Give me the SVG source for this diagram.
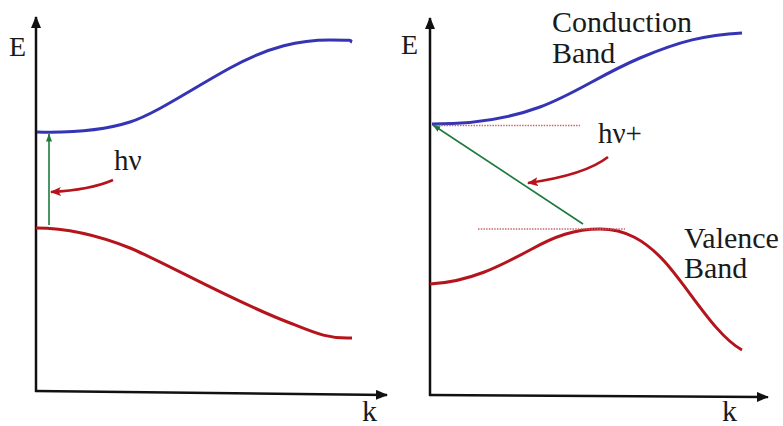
<svg xmlns="http://www.w3.org/2000/svg" width="783" height="426" viewBox="0 0 783 426">
<defs>
<marker id="ax" viewBox="0 0 12 10" refX="11" refY="5" markerWidth="12" markerHeight="10" markerUnits="userSpaceOnUse" orient="auto"><path d="M0,0 L12,5 L0,10 Z" fill="#111"/></marker>
<marker id="gr" viewBox="0 0 8 6" refX="7.5" refY="3" markerWidth="8" markerHeight="6" markerUnits="userSpaceOnUse" orient="auto"><path d="M0,0 L8,3 L0,6 Z" fill="#1e7a3c"/></marker>
<marker id="rd" viewBox="0 0 11 9" refX="10" refY="4.5" markerWidth="11" markerHeight="9" markerUnits="userSpaceOnUse" orient="auto"><path d="M0,0 L11,4.5 L0,9 L2.5,4.5 Z" fill="#b5141c"/></marker>
</defs>
<style>
.axis{stroke:#111;stroke-width:2.5;fill:none}
.cb{stroke:#3434b4;stroke-width:3;fill:none}
.vb{stroke:#b5141c;stroke-width:3;fill:none}
.gn{stroke:#1e7a3c;stroke-width:1.6;fill:none}
.ra{stroke:#b5141c;stroke-width:2.6;fill:none}
.dot{stroke:#c46a6a;stroke-width:1.6;stroke-dasharray:1.5 1.2;fill:none}
.t{fill:#1a1a1a}
</style>
<rect width="783" height="426" fill="#fff"/>
<g id="left-panel">
<g id="left-axes">
<line class="axis" x1="36" y1="392" x2="36" y2="17" marker-end="url(#ax)"/>
<line class="axis" x1="35" y1="391" x2="387" y2="395" marker-end="url(#ax)"/>
<text class="t" font-family="Liberation Serif, DejaVu Serif, serif" x="9" y="56" font-size="28">E</text>
<text class="t" font-family="Liberation Serif, DejaVu Serif, serif" x="362" y="421" font-size="30">k</text>
</g>
<g id="left-conduction">
<path class="cb" d="M37,132 C75,133 105,130 130,122 S190,90 230,68 S300,40 330,40 S348,41 352,42"/>
</g>
<g id="left-valence">
<path class="vb" d="M36,228 C70,228 100,236 130,248 C170,265 230,300 290,323 C315,333 328,339 352,338"/>
</g>
<g id="left-label">
<text class="t" font-family="Liberation Serif, DejaVu Serif, serif" x="114" y="170" font-size="29">hν</text>
</g>
</g>
<g id="right-panel">
<g id="right-axes">
<line class="axis" x1="430" y1="396" x2="430" y2="18" marker-end="url(#ax)"/>
<line class="axis" x1="429" y1="395" x2="768" y2="397" marker-end="url(#ax)"/>
<text class="t" font-family="Liberation Serif, DejaVu Serif, serif" x="401" y="54" font-size="28">E</text>
<text class="t" font-family="Liberation Serif, DejaVu Serif, serif" x="722" y="421" font-size="30">k</text>
</g>
<g id="right-conduction">
<path class="cb" d="M432,124 C470,124 505,120 540,107 S600,75 640,58 S705,35 742,33"/>
<text class="t" font-family="Liberation Serif, DejaVu Serif, serif" x="552" y="32" font-size="30">Conduction</text>
<text class="t" font-family="Liberation Serif, DejaVu Serif, serif" x="552" y="63" font-size="30">Band</text>
</g>
<g id="right-valence">
<path class="vb" d="M430,284 C470,282 500,266 530,250 C555,236 575,229 600,229 C625,229 645,240 665,262 C690,290 715,335 742,350"/>
<text class="t" font-family="Liberation Serif, DejaVu Serif, serif" x="684" y="248" font-size="30">Valence</text>
<text class="t" font-family="Liberation Serif, DejaVu Serif, serif" x="684" y="278" font-size="30">Band</text>
</g>
<g id="right-label">
<text class="t" font-family="Liberation Serif, DejaVu Serif, serif" x="598" y="143" font-size="29">hν+</text>
</g>
</g>
<g id="connectors">
<line class="dot" x1="433" y1="125.5" x2="580" y2="125.5"/>
<line class="dot" x1="478" y1="229" x2="625" y2="229"/>
<line class="gn" x1="49" y1="225" x2="49" y2="134" marker-end="url(#gr)"/>
<line class="gn" x1="583" y1="224" x2="433" y2="125" marker-end="url(#gr)"/>
<path class="ra" d="M113,180 Q90,190 51,192" marker-end="url(#rd)"/>
<path class="ra" d="M608,157 Q585,175 528,183" marker-end="url(#rd)"/>
</g>
</svg>
